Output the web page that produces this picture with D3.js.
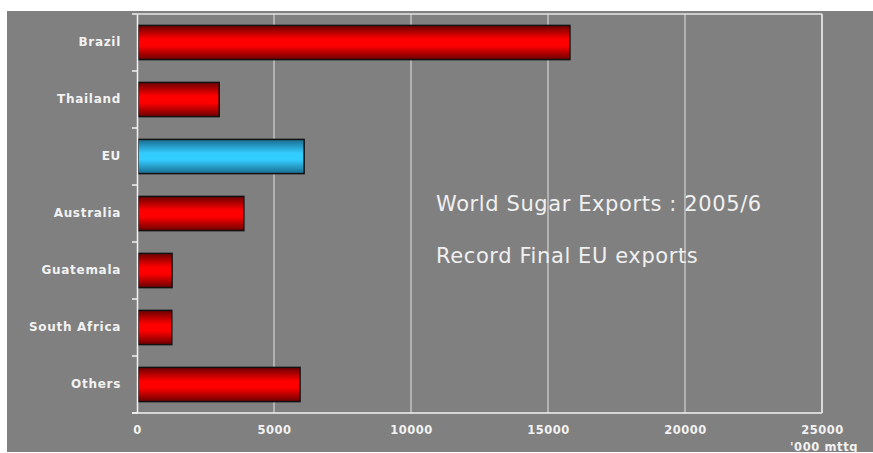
<!DOCTYPE html>
<html>
<head>
<meta charset="utf-8">
<script src="https://cdn.jsdelivr.net/npm/d3@7"></script>
<style>
  html, body { margin: 0; padding: 0; background: #ffffff; }
  svg { display: block; }
</style>
</head>
<body>
<svg id="chart" width="873" height="453"></svg>
<script>
// World sugar exports 2005/6, '000 tonnes raw value
const categories = ["Brazil", "Thailand", "EU", "Australia", "Guatemala", "South Africa", "Others"];
const exportsKt = [15800, 3000, 6100, 3900, 1280, 1270, 5950];
const highlight = ["EU"];
const xTicks = [0, 5000, 10000, 15000, 20000, 25000];
const xUnit = "'000 mttq";
const notes = ["World Sugar Exports : 2005/6", "Record Final EU exports"];

const svg = d3.select("#chart");
const W = 873, H = 453;
const bg = { x: 7, y: 11, w: W - 7, h: 441 };
const plot = { left: 137, top: 14, right: 822, bottom: 413 };

svg.append("rect")
  .attr("x", bg.x).attr("y", bg.y).attr("width", bg.w).attr("height", bg.h)
  .attr("fill", "#808080");

const x = d3.scaleLinear().domain([0, 25000]).range([plot.left, plot.right]);
const y = d3.scaleBand().domain(categories).range([plot.top, plot.bottom]).paddingInner(0.4).paddingOuter(0.2);

// bar gradients: dark edges, bright centre
const defs = svg.append("defs");
function grad(id, edge, mid) {
  const g = defs.append("linearGradient").attr("id", id)
    .attr("x1", 0).attr("y1", 0).attr("x2", 0).attr("y2", 1);
  g.append("stop").attr("offset", "0%").attr("stop-color", edge);
  g.append("stop").attr("offset", "40%").attr("stop-color", mid);
  g.append("stop").attr("offset", "60%").attr("stop-color", mid);
  g.append("stop").attr("offset", "100%").attr("stop-color", edge);
}
grad("gRed", "#6a0000", "#ff0000");
grad("gBlue", "#1a6a8c", "#33ccff");

// vertical gridlines
svg.append("g")
  .selectAll("line")
  .data(xTicks.slice(1))
  .join("line")
  .attr("x1", d => x(d)).attr("x2", d => x(d))
  .attr("y1", plot.top).attr("y2", plot.bottom)
  .attr("stroke", "#d4d4d4").attr("stroke-width", 1.2);

// top border of plot
svg.append("line")
  .attr("x1", plot.left).attr("x2", plot.right)
  .attr("y1", plot.top).attr("y2", plot.top)
  .attr("stroke", "#e6e6e6").attr("stroke-width", 1.5);

// bars
svg.append("g")
  .selectAll("rect")
  .data(categories.map((c, i) => ({ c, v: exportsKt[i] })))
  .join("rect")
  .attr("x", x(0) + 1)
  .attr("y", d => y(d.c))
  .attr("width", d => x(d.v) - x(0) - 1)
  .attr("height", y.bandwidth())
  .attr("fill", d => highlight.includes(d.c) ? "url(#gBlue)" : "url(#gRed)")
  .attr("stroke", "#111")
  .attr("stroke-width", 1.5);

const labelFont = "'DejaVu Sans', Verdana, sans-serif";

function boldLabel(sel, size, spacing) {
  sel.attr("fill", "#f2f2f2")
    .style("font-family", labelFont)
    .style("font-size", size + "px")
    .style("font-weight", "bold")
    .style("letter-spacing", spacing + "px");
}

// y axis
const yAxis = svg.append("g")
  .attr("transform", `translate(${plot.left},0)`)
  .call(d3.axisLeft(y).tickSize(0).tickPadding(16));
yAxis.select(".domain").attr("stroke", "#f2f2f2").attr("stroke-width", 1.5);
yAxis.selectAll("text").call(boldLabel, 12, 0.7);
// category boundary ticks
yAxis.append("g")
  .selectAll("line")
  .data(d3.range(categories.length + 1))
  .join("line")
  .attr("x1", -5).attr("x2", 0)
  .attr("y1", i => plot.top + i * y.step())
  .attr("y2", i => plot.top + i * y.step())
  .attr("stroke", "#f2f2f2").attr("stroke-width", 1.5);

// x axis
const xAxis = svg.append("g")
  .attr("transform", `translate(0,${plot.bottom})`)
  .call(d3.axisBottom(x).tickValues(xTicks).tickSize(0).tickPadding(13).tickFormat(d3.format("d")));
xAxis.select(".domain").remove();
xAxis.append("line")
  .attr("x1", plot.left - 5).attr("x2", plot.right)
  .attr("stroke", "#f2f2f2").attr("stroke-width", 1.5);
xAxis.selectAll("text").call(boldLabel, 11.5, 0.5);

// right border of plot
svg.append("line")
  .attr("x1", plot.right).attr("x2", plot.right)
  .attr("y1", plot.top).attr("y2", plot.bottom)
  .attr("stroke", "#e6e6e6").attr("stroke-width", 1.5);

// unit label
svg.append("text")
  .attr("x", x(25000) + 2).attr("y", 451)
  .attr("text-anchor", "middle")
  .call(boldLabel, 11.5, 0.6)
  .text(xUnit);

// annotation
svg.append("g")
  .selectAll("text")
  .data(notes)
  .join("text")
  .attr("x", 436)
  .attr("y", (d, i) => 211 + i * 52)
  .attr("fill", "#f0f0f0")
  .style("font-family", labelFont)
  .style("font-size", "21px")
  .style("letter-spacing", "0.6px")
  .text(d => d);
</script>
</body>
</html>
